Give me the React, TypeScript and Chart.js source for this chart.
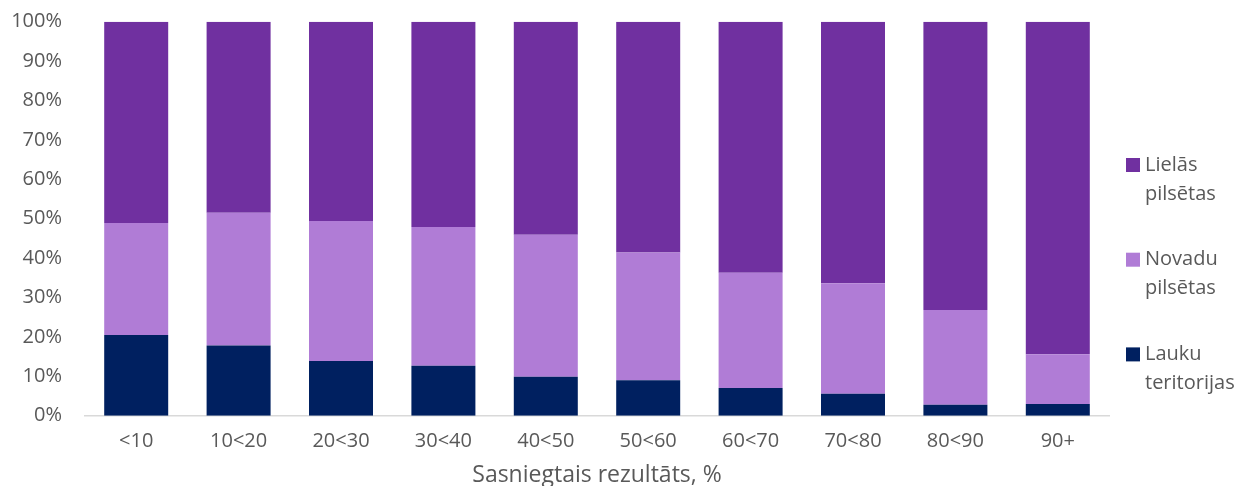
import React, { useEffect, useRef } from "react";
import { Chart, registerables } from "chart.js";

Chart.register(...registerables);

const categories = ["<10", "10<20", "20<30", "30<40", "40<50", "50<60", "60<70", "70<80", "80<90", "90+"];
const lauku = [20.5, 17.8, 13.9, 12.7, 9.9, 9.0, 7.0, 5.6, 2.8, 3.0];
const novadu = [28.4, 33.7, 35.5, 35.2, 36.0, 32.4, 29.3, 28.0, 24.0, 12.6];
const lielas = [51.1, 48.5, 50.6, 52.1, 54.1, 58.6, 63.7, 66.4, 73.2, 84.4];
const seriesNames = [["Lauku", "teritorijas"], ["Novadu", "pilsētas"], ["Lielās", "pilsētas"]];
const yTicks = [0, 10, 20, 30, 40, 50, 60, 70, 80, 90, 100];
const xTitle = "Sasniegtais rezultāts, %";

const FONT = "'Open Sans', sans-serif";
const TEXT = "#595959";

const legendPlugin = {
  id: "sideLegend",
  afterDraw(chart: any) {
    const ctx = chart.ctx;
    const ds = chart.data.datasets;
    const x0 = chart.chartArea.right + 17;
    const yStart = 165;
    const step = 94.7;
    ctx.save();
    ctx.font = `20px ${FONT}`;
    ctx.textBaseline = "middle";
    ctx.textAlign = "left";
    const order = [2, 1, 0];
    order.forEach((di, i) => {
      const y = yStart + i * step;
      ctx.fillStyle = ds[di].backgroundColor;
      ctx.fillRect(x0, y - 7, 14, 14);
      ctx.fillStyle = TEXT;
      const lines: string[] = ds[di].legendLines;
      lines.forEach((t, li) => ctx.fillText(t, x0 + 19, y + li * 29));
    });
    ctx.restore();
  },
};

export default function App() {
  const ref = useRef<HTMLCanvasElement>(null);
  useEffect(() => {
    if (!ref.current) return;
    const chart = new Chart(ref.current, {
      type: "bar",
      data: {
        labels: categories,
        datasets: [
          { label: seriesNames[0].join(" "), legendLines: seriesNames[0], data: lauku, backgroundColor: "#002060" } as any,
          { label: seriesNames[1].join(" "), legendLines: seriesNames[1], data: novadu, backgroundColor: "#B07CD6" } as any,
          { label: seriesNames[2].join(" "), legendLines: seriesNames[2], data: lielas, backgroundColor: "#7030A0" } as any,
        ],
      },
      plugins: [legendPlugin],
      options: {
        animation: false,
        responsive: true,
        maintainAspectRatio: false,
        layout: { autoPadding: false, padding: { top: 21.7, right: 132, bottom: 0, left: 0 } },
        datasets: { bar: { categoryPercentage: 1, barPercentage: 0.625 } },
        plugins: { legend: { display: false }, tooltip: { enabled: false } },
        scales: {
          x: {
            stacked: true,
            grid: { display: false, drawTicks: false },
            border: { display: true, color: "#D9D9D9", width: 1.5 },
            ticks: { color: TEXT, font: { family: FONT, size: 20 }, padding: 14 },
            title: { display: true, text: xTitle, color: TEXT, font: { family: FONT, size: 23 }, padding: { top: 0, bottom: -3 } },
            afterFit: (s: any) => { s.height = 486 - 415.7; s.paddingLeft = 0; s.paddingRight = 0; },
          },
          y: {
            stacked: true,
            min: 0,
            max: 100,
            afterBuildTicks: (s: any) => { s.ticks = yTicks.map((v) => ({ value: v })); },
            grid: { display: false, drawTicks: false },
            border: { display: false },
            ticks: { color: TEXT, font: { family: FONT, size: 20 }, padding: 23, callback: (v: any) => `${v}%` },
            afterFit: (s: any) => { s.width = 85; s.paddingTop = 0; s.paddingBottom = 0; },
          },
        },
      },
    });
    return () => chart.destroy();
  }, []);
  return (
    <div style={{ position: "fixed", left: 0, top: 0, width: 1241, height: 486, background: "#fff" }}>
      <canvas ref={ref} />
    </div>
  );
}
